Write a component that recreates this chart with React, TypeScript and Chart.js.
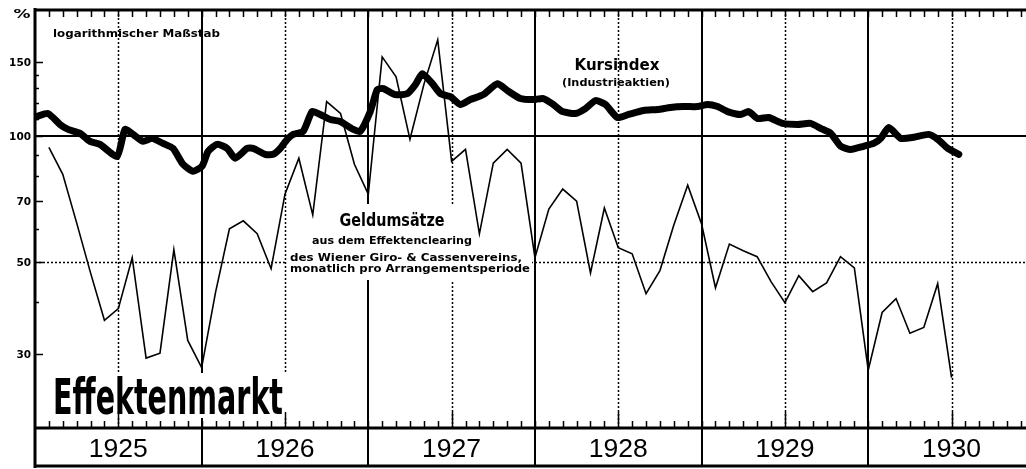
import React, { useEffect, useRef } from "react";
import { Chart, registerables } from "chart.js";
Chart.register(...registerables);

// Months counted from the start of January 1925 (0 = 1 Jan 1925)
const GELD_MONTH = [
  1, 2, 3, 4, 5, 6, 7, 8, 9, 10, 11, 12, 13, 14, 15, 16, 17, 18, 19, 20, 21, 22,
  23, 24, 25, 26, 27, 28, 29, 30, 31, 32, 33, 34, 35, 36, 37, 38, 39, 40, 41, 42,
  43, 44, 45, 46, 47, 48, 49, 50, 51, 52, 53, 54, 55, 56, 57, 58, 59, 60, 61, 62,
  63, 64, 65, 66,
];
const GELD_VALUE = [
  93.8, 80.9, 61.9, 47.0, 36.2, 38.6, 51.1, 29.4, 30.2, 53.4, 32.4, 27.9, 42.2,
  59.9, 62.6, 58.3, 48.1, 72.5, 88.4, 64.7, 120.8, 113.1, 85.5, 72.5, 154.5,
  138.5, 98.1, 132.6, 169.7, 86.9, 92.8, 58.3, 86.0, 92.8, 86.0, 51.1, 66.8,
  74.6, 69.8, 47.0, 67.2, 54.0, 52.2, 41.9, 47.6, 61.2, 76.2, 61.5, 43.3, 55.1,
  53.1, 51.4, 44.8, 39.9, 46.3, 42.4, 44.5, 51.4, 48.3, 27.5, 37.8, 40.8, 33.7,
  34.8, 44.3, 26.4,
];

const KURS_MONTH = [
  0.14, 0.93, 1.8, 2.38, 3.24, 3.96, 4.68, 5.91, 6.48, 7.06, 7.78, 8.43, 9.22,
  9.94, 10.66, 11.39, 12.03, 12.47, 13.12, 13.84, 14.41, 15.28, 15.71, 16.57,
  17.15, 17.66, 18.16, 18.59, 19.31, 19.96, 20.54, 21.26, 21.98, 22.92, 23.42,
  24.14, 24.65, 25.08, 25.94, 26.81, 27.39, 27.89, 28.61, 29.19, 29.91, 30.63,
  31.35, 32.29, 33.3, 34.02, 34.95, 35.89, 36.61, 37.33, 37.98, 38.92, 39.64,
  40.36, 41.08, 41.94, 42.74, 43.82, 44.83, 45.76, 46.7, 47.71, 48.43, 49.15,
  49.87, 50.81, 51.39, 52.03, 52.83, 53.84, 54.92, 55.85, 56.57, 57.3, 58.02,
  58.74, 59.67, 60.39, 60.9, 61.48, 62.34, 63.28, 64.36, 65.01, 65.73, 66.52,
];
const KURS_VALUE = [
  111.2, 113.1, 106.5, 103.6, 101.4, 97.0, 95.4, 89.3, 103.6, 100.8, 97.0, 98.6,
  95.9, 93.3, 85.5, 82.3, 84.6, 91.8, 95.4, 93.3, 88.4, 93.3, 93.3, 90.3, 90.3,
  93.3, 98.1, 100.8, 102.5, 114.3, 112.5, 109.4, 108.2, 103.6, 102.5, 114.3,
  129.0, 129.7, 125.5, 126.2, 132.6, 140.8, 133.3, 126.2, 124.1, 118.8, 122.1,
  125.5, 133.3, 128.3, 122.8, 122.1, 122.8, 118.8, 114.3, 113.1, 116.2, 121.4,
  118.8, 110.6, 112.5, 115.0, 115.6, 116.9, 117.5, 117.5, 118.8, 117.5, 114.3,
  112.5, 114.3, 110.0, 110.6, 107.1, 106.5, 107.1, 104.2, 101.4, 94.4, 92.8,
  94.4, 95.9, 98.6, 104.7, 98.6, 99.2, 100.8, 98.1, 93.3, 90.3,
];

const YEARS = ["1925", "1926", "1927", "1928", "1929", "1930"];
const Y_MAJOR = [30, 50, 70, 100, 150];
const Y_MINOR = [40, 60, 80, 90, 110, 120, 130, 140];

const X_MIN = 0;
const X_MAX = 71.36;

function drawFit(
  ctx: CanvasRenderingContext2D,
  text: string,
  x: number,
  cy: number,
  font: string,
  size: number,
  width: number,
  align: "left" | "center" | "right"
) {
  ctx.save();
  ctx.font = font;
  const w = ctx.measureText(text).width;
  const s = width > 0 ? width / w : 1;
  ctx.translate(x, cy + size * 0.36);
  ctx.scale(s, 1);
  ctx.textAlign = align;
  ctx.textBaseline = "alphabetic";
  ctx.fillStyle = "#000";
  ctx.fillText(text, 0, 0);
  ctx.restore();
}

const decorPlugin = {
  id: "decor",
  beforeDatasetsDraw(chart: any) {
    const ctx: CanvasRenderingContext2D = chart.ctx;
    const xs = chart.scales.x;
    const ys = chart.scales.y;
    const a = chart.chartArea;
    ctx.save();
    ctx.fillStyle = "#fff";
    ctx.fillRect(0, 0, chart.width, chart.height);
    ctx.strokeStyle = "#000";

    // mid-year dotted verticals
    ctx.lineWidth = 1.5;
    ctx.setLineDash([2, 2]);
    for (let i = 0; i < YEARS.length; i++) {
      const px = Math.round(xs.getPixelForValue(i * 12 + 6)) + 0.5;
      if (px > a.right) continue;
      ctx.beginPath();
      ctx.moveTo(px, a.top);
      ctx.lineTo(px, a.bottom);
      ctx.stroke();
    }
    // dotted 50 line
    const y50 = Math.round(ys.getPixelForValue(50)) + 0.5;
    ctx.beginPath();
    ctx.moveTo(a.left, y50);
    ctx.lineTo(a.right, y50);
    ctx.stroke();
    ctx.setLineDash([]);

    // year-start solid verticals
    ctx.lineWidth = 2;
    for (let i = 1; i < YEARS.length; i++) {
      const px = Math.round(xs.getPixelForValue(i * 12));
      ctx.beginPath();
      ctx.moveTo(px, a.top);
      ctx.lineTo(px, 466);
      ctx.stroke();
    }
    // solid 100 line
    const y100 = Math.round(ys.getPixelForValue(100));
    ctx.lineWidth = 2.2;
    ctx.beginPath();
    ctx.moveTo(a.left, y100);
    ctx.lineTo(a.right, y100);
    ctx.stroke();

    // white boxes behind texts
    ctx.fillStyle = "#fff";
    ctx.fillRect(287, 204, 245, 76);
    ctx.fillRect(37, 373, 255, 45);

    const F = "'DejaVu Sans', sans-serif";
    drawFit(ctx, "logarithmischer Maßstab", 53, 33, `bold 11px ${F}`, 11, 167, "left");
    drawFit(ctx, "Kursindex", 617, 65, `bold 15px ${F}`, 15, 85, "center");
    drawFit(ctx, "(Industrieaktien)", 616, 82, `bold 10px ${F}`, 10, 108, "center");
    drawFit(ctx, "Geldumsätze", 392, 220, `bold 18px ${F}`, 18, 105, "center");
    drawFit(ctx, "aus dem Effektenclearing", 392, 240, `bold 11px ${F}`, 11, 160, "center");
    drawFit(ctx, "des Wiener Giro- & Cassenvereins,", 290, 257, `bold 11px ${F}`, 11, 232, "left");
    drawFit(ctx, "monatlich pro Arrangementsperiode", 290, 268.5, `bold 11px ${F}`, 11, 240, "left");
    drawFit(
      ctx,
      "Effektenmarkt",
      53,
      396,
      "bold 49px 'Liberation Sans Narrow', 'DejaVu Sans Condensed', 'DejaVu Sans', sans-serif",
      49,
      230,
      "left"
    );
    ctx.restore();
  },
  afterDatasetsDraw(chart: any) {
    const ctx: CanvasRenderingContext2D = chart.ctx;
    const xs = chart.scales.x;
    const ys = chart.scales.y;
    const a = chart.chartArea;
    ctx.save();
    ctx.strokeStyle = "#000";
    ctx.fillStyle = "#000";

    // frame
    ctx.lineWidth = 3;
    ctx.beginPath();
    ctx.moveTo(a.left, 8);
    ctx.lineTo(a.left, 468);
    ctx.moveTo(a.left, a.top);
    ctx.lineTo(a.right, a.top);
    ctx.moveTo(a.left, a.bottom);
    ctx.lineTo(a.right, a.bottom);
    ctx.moveTo(a.left, 466);
    ctx.lineTo(a.right, 466);
    ctx.stroke();

    // month ticks top and bottom
    ctx.lineWidth = 1.5;
    ctx.beginPath();
    for (let m = 1; m <= 71; m++) {
      const px = Math.round(xs.getPixelForValue(m)) + 0.5;
      if (px > a.right) continue;
      ctx.moveTo(px, a.top);
      ctx.lineTo(px, a.top + 7);
      const len = m % 12 === 6 ? 16 : 7;
      ctx.moveTo(px, a.bottom);
      ctx.lineTo(px, a.bottom - len);
    }
    ctx.stroke();

    // y ticks
    ctx.lineWidth = 1.5;
    ctx.beginPath();
    Y_MAJOR.forEach((v) => {
      const py = Math.round(ys.getPixelForValue(v)) + 0.5;
      ctx.moveTo(a.left, py);
      ctx.lineTo(a.left + 8, py);
    });
    Y_MINOR.forEach((v) => {
      const py = Math.round(ys.getPixelForValue(v)) + 0.5;
      ctx.moveTo(a.left, py);
      ctx.lineTo(a.left + 4, py);
    });
    ctx.stroke();

    const F = "'DejaVu Sans', sans-serif";
    Y_MAJOR.forEach((v) => {
      const py = ys.getPixelForValue(v);
      const t = String(v);
      drawFit(ctx, t, 31, py, `bold 11px ${F}`, 11, t.length * 7.3, "right");
    });
    drawFit(ctx, "%", 22, 14, `bold 12px ${F}`, 12, 17, "center");

    YEARS.forEach((yr, i) => {
      const px = xs.getPixelForValue(i * 12 + 6);
      drawFit(ctx, yr, px, 447.5, "26px 'Liberation Sans', Arial, sans-serif", 26, 59, "center");
    });
    ctx.restore();
  },
};

export default function App() {
  const ref = useRef<HTMLCanvasElement | null>(null);
  useEffect(() => {
    if (!ref.current) return;
    const chart = new Chart(ref.current, {
      type: "line",
      data: {
        datasets: [
          {
            label: "Kursindex (Industrieaktien)",
            data: KURS_MONTH.map((m, i) => ({ x: m, y: KURS_VALUE[i] })),
            borderColor: "#000",
            borderWidth: 7,
            pointRadius: 0,
            tension: 0.2,
            borderJoinStyle: "round",
            borderCapStyle: "round",
            fill: false,
          },
          {
            label: "Geldumsätze",
            data: GELD_MONTH.map((m, i) => ({ x: m, y: GELD_VALUE[i] })),
            borderColor: "#000",
            borderWidth: 1.6,
            pointRadius: 0,
            tension: 0,
            borderJoinStyle: "miter",
            fill: false,
          },
        ],
      },
      options: {
        responsive: false,
        animation: false,
        devicePixelRatio: 1,
        layout: { padding: { left: 35, top: 10, right: 0, bottom: 41 } },
        plugins: { legend: { display: false }, tooltip: { enabled: false } },
        scales: {
          x: { type: "linear", min: X_MIN, max: X_MAX, display: false },
          y: { type: "logarithmic", min: 20, max: 200, display: false },
        },
      },
      plugins: [decorPlugin],
    } as any);
    return () => chart.destroy();
  }, []);
  return (
    <div style={{ position: "fixed", left: 0, top: 0, width: 1026, height: 469, background: "#fff" }}>
      <canvas ref={ref} width={1026} height={469} style={{ display: "block" }} />
    </div>
  );
}
